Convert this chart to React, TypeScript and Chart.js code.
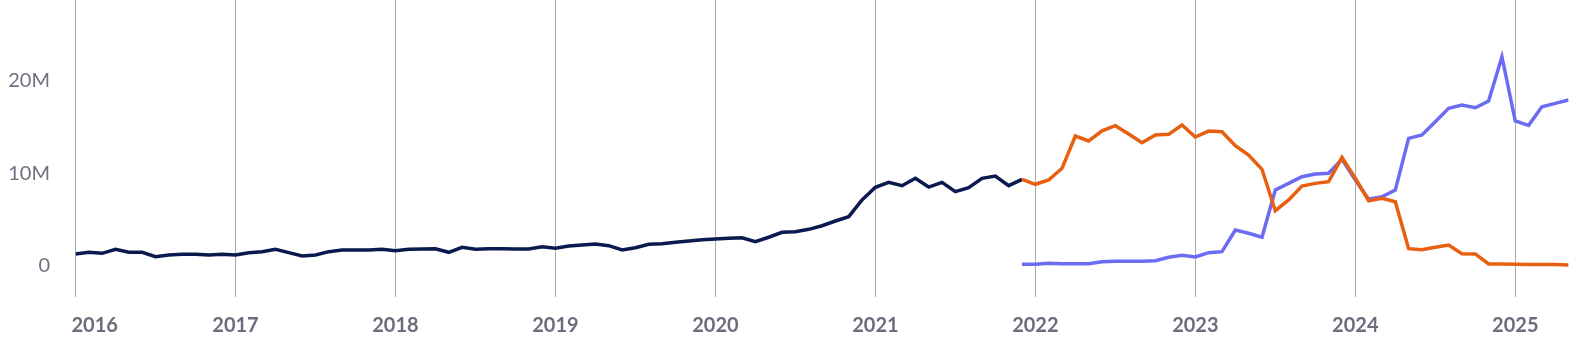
import React, { useEffect, useRef } from 'react';
import { Chart, registerables } from 'chart.js';

Chart.register(...registerables);

// Month index 0 = January 2016
const yearLabels = ['2016', '2017', '2018', '2019', '2020', '2021', '2022', '2023', '2024', '2025'];
const yearTickMonths = [0, 12, 24, 36, 48, 60, 72, 84, 96, 108];
const yTickValues = [0, 10, 20];
const yTickLabels = ['0', '10M', '20M'];

const navyStartMonth = 0; // 2016-01
const navyValues = [
  1.25, 1.43, 1.32, 1.75, 1.43, 1.43, 0.95, 1.14, 1.21, 1.21, 1.14, 1.21,
  1.14, 1.39, 1.5, 1.75, 1.39, 1.03, 1.14, 1.5, 1.68, 1.68, 1.68, 1.75,
  1.6, 1.75, 1.79, 1.82, 1.43, 1.97, 1.75, 1.82, 1.82, 1.79, 1.79, 2.04,
  1.86, 2.11, 2.22, 2.33, 2.15, 1.68, 1.93, 2.3, 2.36, 2.51, 2.65, 2.8,
  2.87, 2.95, 3.01, 2.58, 3.06, 3.6, 3.66, 3.92, 4.31, 4.82, 5.29, 7.1,
  8.47, 9.01, 8.65, 9.45, 8.5, 9.01, 8.0, 8.43, 9.45, 9.7, 8.65, 9.34,
];

const splitStartMonth = 71; // 2021-12
const orangeValues = [
  9.34,
  8.8, 9.26, 10.53, 14.03, 13.49, 14.6, 15.15, 14.25, 13.3, 14.14, 14.21, 15.22,
  13.92, 14.57, 14.5, 12.98, 11.97, 10.42, 5.94, 7.1, 8.61, 8.9, 9.08, 11.72,
  9.45, 7.02, 7.28, 6.91, 1.82, 1.71, 1.97, 2.22, 1.28, 1.25, 0.16, 0.16,
  0.13, 0.12, 0.11, 0.1, 0.05,
];
const purpleValues = [
  0.13,
  0.13, 0.24, 0.2, 0.2, 0.2, 0.41, 0.45, 0.45, 0.45, 0.52, 0.89, 1.1,
  0.92, 1.39, 1.5, 3.85, 3.49, 3.06, 8.18, 8.9, 9.62, 9.91, 9.99, 11.5,
  9.26, 7.17, 7.45, 8.18, 13.78, 14.14, 15.58, 17.03, 17.39, 17.1, 17.82, 22.62,
  15.66, 15.19, 17.2, 17.57, 17.93,
];

const toPoints = (start: number, values: number[]) =>
  values.map((v, i) => ({ x: start + i, y: v }));

const xLabelPlugin = {
  id: 'yearLabels',
  afterDraw(chart: any) {
    const xs = chart.scales.x;
    const ctx = chart.ctx;
    ctx.save();
    ctx.font = 'bold 20px Lato';
    ctx.fillStyle = '#6c6c7c';
    ctx.textBaseline = 'middle';
    yearLabels.forEach((lab, i) => {
      const px = xs.getPixelForValue(yearTickMonths[i]);
      if (i === 0) {
        ctx.textAlign = 'left';
        ctx.fillText(lab, px - 4, xs.top + 29);
      } else {
        ctx.textAlign = 'center';
        ctx.fillText(lab, px, xs.top + 29);
      }
    });
    ctx.restore();
  },
};

export default function App() {
  const ref = useRef<HTMLCanvasElement | null>(null);

  useEffect(() => {
    if (!ref.current) return;
    const chart = new Chart(ref.current, {
      type: 'line',
      data: {
        datasets: [
          {
            label: 'orange',
            data: toPoints(splitStartMonth, orangeValues),
            borderColor: '#e8600f',
            borderWidth: 3.5,
            pointRadius: 0,
            tension: 0,
            order: 0,
          },
          {
            label: 'purple',
            data: toPoints(splitStartMonth, purpleValues),
            borderColor: '#6b6cf2',
            borderWidth: 3.5,
            pointRadius: 0,
            tension: 0,
            order: 1,
          },
          {
            label: 'navy',
            data: toPoints(navyStartMonth, navyValues),
            borderColor: '#0b1a4e',
            borderWidth: 3.5,
            pointRadius: 0,
            tension: 0,
            order: 2,
          },
        ],
      },
      options: {
        responsive: false,
        animation: false,
        layout: { autoPadding: false, padding: { left: 0, right: 7.4, top: 0, bottom: 0 } },
        plugins: { legend: { display: false }, tooltip: { enabled: false } },
        scales: {
          x: {
            type: 'linear',
            min: 0,
            max: 112,
            afterBuildTicks: (scale: any) => {
              scale.ticks = yearTickMonths.map((v) => ({ value: v }));
            },
            afterFit: (scale: any) => {
              scale.height = 54.5;
              scale.paddingLeft = 0;
              scale.paddingRight = 0;
            },
            ticks: { display: false },
            grid: { color: '#ababab', lineWidth: 1, drawTicks: false },
            border: { display: false },
          },
          y: {
            type: 'linear',
            min: -3.36,
            max: 28.77,
            afterBuildTicks: (scale: any) => {
              scale.ticks = yTickValues.map((v) => ({ value: v }));
            },
            afterFit: (scale: any) => {
              scale.width = 75.5;
              scale.paddingTop = 0;
              scale.paddingBottom = 0;
            },
            ticks: {
              padding: 25.5,
              color: '#707080',
              font: { family: 'Lato', size: 20 },
              callback: (_v: any, i: number) => yTickLabels[i],
            },
            grid: { display: false, drawTicks: false },
            border: { display: false },
          },
        },
      },
      plugins: [xLabelPlugin],
    });
    return () => chart.destroy();
  }, []);

  return (
    <canvas
      ref={ref}
      width={1576}
      height={351}
      style={{ position: 'absolute', left: 0, top: 0, width: 1576, height: 351 }}
    />
  );
}
